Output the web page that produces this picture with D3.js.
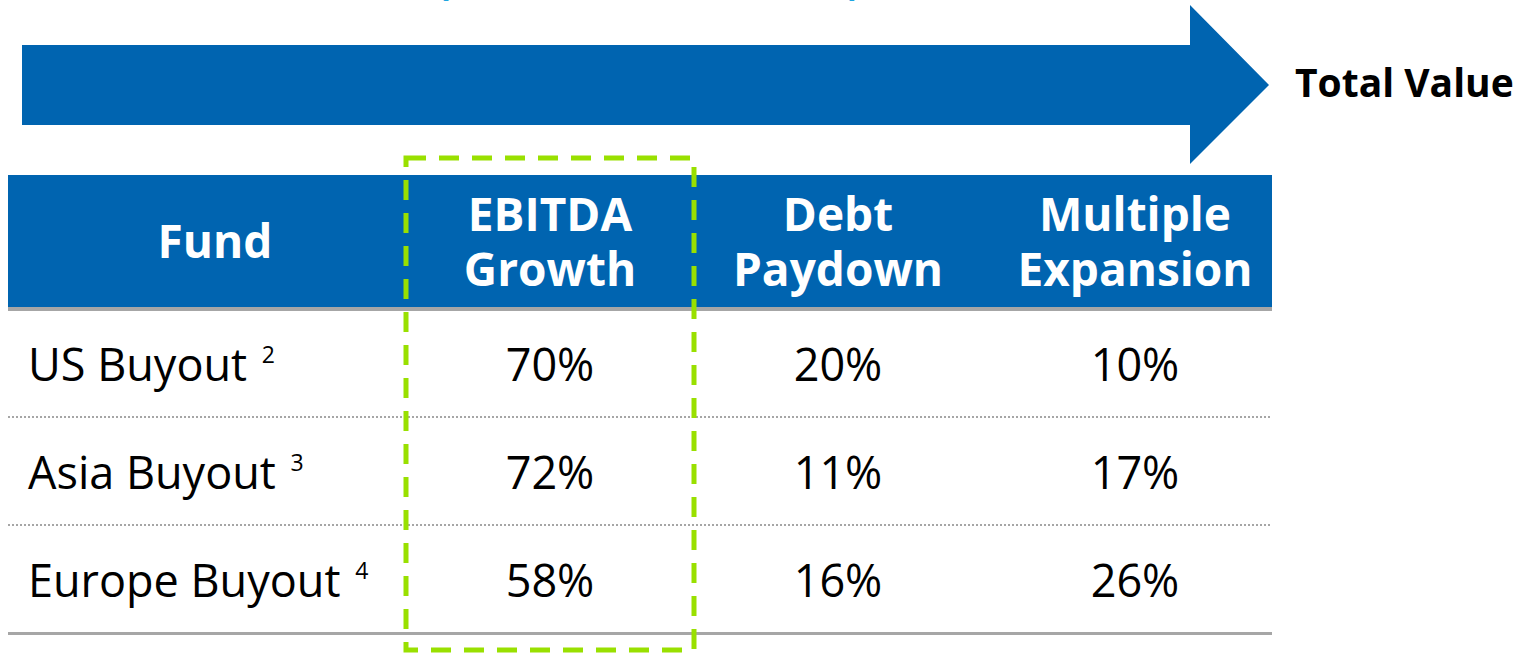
<!DOCTYPE html>
<html><head><meta charset="utf-8">
<script src="https://cdn.jsdelivr.net/npm/d3@7"></script>
<style>html,body{margin:0;padding:0;background:#fff;overflow:hidden}</style>
</head><body>
<svg id="c" width="1527" height="653"></svg>
<script>
const title = "(Sources of Total Value Creation)";
const arrowLabel = "Total Value";
const columns = ["Fund", "EBITDA Growth", "Debt Paydown", "Multiple Expansion"];
const headerLines = [["Fund"], ["EBITDA", "Growth"], ["Debt", "Paydown"], ["Multiple", "Expansion"]];
const funds = ["US Buyout", "Asia Buyout", "Europe Buyout"];
const footnotes = ["2", "3", "4"];
const ebitdaGrowth = ["70%", "72%", "58%"];
const debtPaydown = ["20%", "11%", "16%"];
const multipleExpansion = ["10%", "17%", "26%"];

const FONT = "'Open Sans', 'Noto Sans', sans-serif";
const BLUE = "#0064b0";
const svg = d3.select("#c");

// cut-off title (only its lowest pixels are visible)
svg.append("text").attr("x", 437).attr("y", -5).attr("font-family", FONT).attr("font-weight", 700)
  .attr("font-size", 38).attr("fill", "#1ea5e0").attr("textLength", 424).text(title);

// arrow
const arrowPts = [[22,45],[1190,45],[1190,5],[1269,85],[1190,164],[1190,125],[22,125]];
svg.append("path").attr("d", d3.line()(arrowPts) + "Z").attr("fill", BLUE);
svg.append("text").attr("x", 1295).attr("y", 97).attr("font-family", FONT).attr("font-weight", 700)
  .attr("font-size", 39).attr("fill", "#000").text(arrowLabel);

// table scales
const xLeft = 8, xRight = 1272;
const colX = d3.scaleOrdinal().domain(columns).range([215, 550, 838, 1135]);
const rowY = d3.scaleBand().domain(funds).range([309, 633]);
const headerTop = 175, headerBottom = 307;

svg.append("rect").attr("x", xLeft).attr("y", headerTop).attr("width", xRight - xLeft)
  .attr("height", headerBottom - headerTop).attr("fill", BLUE);
svg.append("rect").attr("x", xLeft).attr("y", headerBottom).attr("width", xRight - xLeft)
  .attr("height", 4).attr("fill", "#a6a6a6");

// headers
columns.forEach((c, i) => {
  const lines = headerLines[i];
  const t = svg.append("text").attr("text-anchor", "middle").attr("font-family", FONT)
    .attr("font-weight", 700).attr("font-size", 46).attr("fill", "#fff");
  const mid = (headerTop + headerBottom) / 2;
  const lh = 55;
  lines.forEach((l, j) => {
    t.append("tspan").attr("x", colX(c))
      .attr("y", mid + (j - (lines.length - 1) / 2) * lh + 17).text(l);
  });
});

// row separators
funds.forEach((f, i) => {
  const y = rowY(f) + rowY.bandwidth();
  if (i < funds.length - 1) {
    svg.append("line").attr("x1", xLeft).attr("x2", xRight - 2).attr("y1", y).attr("y2", y)
      .attr("stroke", "#a6a6a6").attr("stroke-width", 2).attr("stroke-dasharray", "2,2");
  } else {
    svg.append("rect").attr("x", xLeft).attr("y", y - 1).attr("width", xRight - xLeft)
      .attr("height", 3).attr("fill", "#a6a6a6");
  }
});

// cells
const valueCols = [ebitdaGrowth, debtPaydown, multipleExpansion];
funds.forEach((f, i) => {
  const cy = rowY(f) + rowY.bandwidth() / 2 + 18;
  const t = svg.append("text").attr("x", 28).attr("y", cy).attr("font-family", FONT)
    .attr("font-size", 45).attr("fill", "#000");
  t.append("tspan").text(f + " ");
  t.append("tspan").attr("font-size", 23).attr("dx", 3).attr("dy", -18).text(footnotes[i]);
  valueCols.forEach((vals, k) => {
    svg.append("text").attr("x", colX(columns[k + 1])).attr("y", cy).attr("text-anchor", "middle")
      .attr("font-family", FONT).attr("font-size", 45).attr("fill", "#000").text(vals[i]);
  });
});

// highlight dashed box
svg.append("rect").attr("x", 406).attr("y", 158).attr("width", 288).attr("height", 492)
  .attr("fill", "none").attr("stroke", "#99e000").attr("stroke-width", 5)
  .attr("stroke-dasharray", "20,13");
</script>
</body></html>
